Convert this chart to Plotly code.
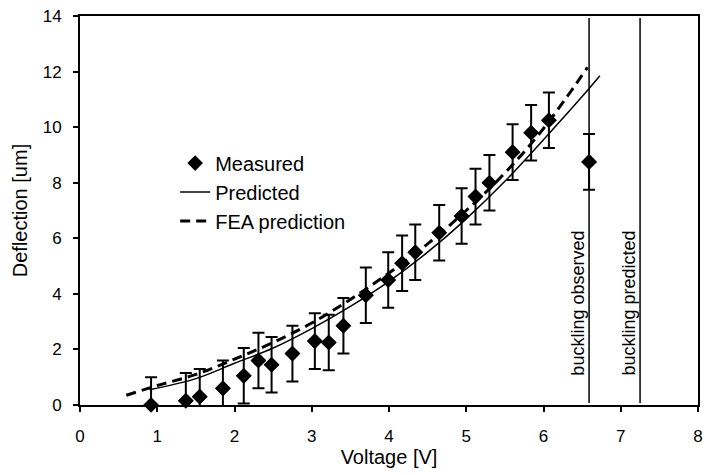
import plotly.graph_objects as go

# Measured data
voltage = [0.92, 1.37, 1.55, 1.85, 2.12, 2.31, 2.48, 2.75, 3.04, 3.22, 3.41, 3.70,
           3.99, 4.17, 4.34, 4.65, 4.94, 5.12, 5.30, 5.60, 5.84, 6.07, 6.59]
deflection = [0.0, 0.15, 0.3, 0.6, 1.05, 1.6, 1.45, 1.85, 2.3, 2.25, 2.85, 3.95,
              4.5, 5.1, 5.5, 6.2, 6.8, 7.5, 8.0, 9.1, 9.8, 10.25, 8.75]
deflection_err = [1.0] * len(voltage)

# Predicted (analytical) curve
pred_v = [0.9, 1.5, 2.0, 2.5, 3.0, 3.5, 4.0, 4.5, 5.0, 5.5, 6.0, 6.5, 6.73]
pred_d = [0.55, 0.95, 1.5, 2.05, 2.75, 3.55, 4.45, 5.5, 6.7, 8.05, 9.55, 11.1, 11.85]

# FEA prediction curve
fea_v = [0.6, 1.0, 1.5, 2.0, 2.5, 3.0, 3.5, 4.0, 4.5, 5.0, 5.5, 6.0, 6.57]
fea_d = [0.35, 0.7, 1.1, 1.65, 2.25, 2.95, 3.8, 4.75, 5.8, 7.0, 8.35, 9.95, 12.15]

# Buckling voltages
buckling_observed_v = 6.59
buckling_predicted_v = 7.25

x_ticks = [0, 1, 2, 3, 4, 5, 6, 7, 8]
y_ticks = [0, 2, 4, 6, 8, 10, 12, 14]

FONT = "Liberation Sans, Arial, sans-serif"

fig = go.Figure()

# error bars (clipped to the plot area)
fig.add_trace(go.Scatter(
    x=voltage, y=deflection, mode="markers",
    marker=dict(symbol="diamond", size=12, color="black"),
    error_y=dict(type="data", array=deflection_err, visible=True,
                 color="black", thickness=2, width=6),
    cliponaxis=True, showlegend=False, hoverinfo="skip"))

fig.add_trace(go.Scatter(
    x=voltage, y=deflection, mode="markers", name="Measured",
    marker=dict(symbol="diamond", size=12, color="black"),
    cliponaxis=False))

fig.add_trace(go.Scatter(
    x=pred_v, y=pred_d, mode="lines", name="Predicted",
    line=dict(color="black", width=1.5, shape="spline")))

fig.add_trace(go.Scatter(
    x=fea_v, y=fea_d, mode="lines", name="FEA prediction",
    line=dict(color="black", width=3, dash="10px,6px", shape="spline")))

for v, label in [(buckling_observed_v, "buckling observed"),
                 (buckling_predicted_v, "buckling predicted")]:
    fig.add_shape(type="line", x0=v, x1=v, xref="x", y0=0.005, y1=0.995,
                  yref="paper", line=dict(color="black", width=1.5))
    fig.add_annotation(x=v, y=0.97, xref="x", yref="y", text=label,
                       textangle=-90, xanchor="right", yanchor="bottom",
                       xshift=0, showarrow=False,
                       font=dict(family=FONT, size=18, color="black"))

fig.update_layout(
    width=706, height=475,
    margin=dict(l=80, r=3, t=16, b=70),
    paper_bgcolor="white", plot_bgcolor="white",
    font=dict(family=FONT, color="black"),
    showlegend=True,
    legend=dict(x=0.154, y=0.672, xanchor="left", yanchor="top",
                bgcolor="rgba(0,0,0,0)", font=dict(size=20, family=FONT),
                traceorder="normal"),
)

fig.update_xaxes(
    range=[0, 8], tickvals=x_ticks, ticktext=[str(t) for t in x_ticks],
    showgrid=False, zeroline=False, showline=True, linecolor="black",
    linewidth=2, mirror=True, ticks="outside", ticklen=5, tickwidth=1.5,
    tickcolor="black", tickfont=dict(size=17, family=FONT),
    ticklabelstandoff=10,
    title=dict(text="Voltage [V]", font=dict(size=20, family=FONT), standoff=4))

fig.update_yaxes(
    range=[0, 14], tickvals=y_ticks, ticktext=[str(t) for t in y_ticks],
    showgrid=False, zeroline=False, showline=True, linecolor="black",
    linewidth=2, mirror=True, ticks="outside", ticklen=5, tickwidth=1.5,
    tickcolor="black", tickfont=dict(size=17, family=FONT),
    ticklabelstandoff=8,
    title=dict(text="Deflection [um]", font=dict(size=20, family=FONT), standoff=10))

fig.write_html("out.html")
